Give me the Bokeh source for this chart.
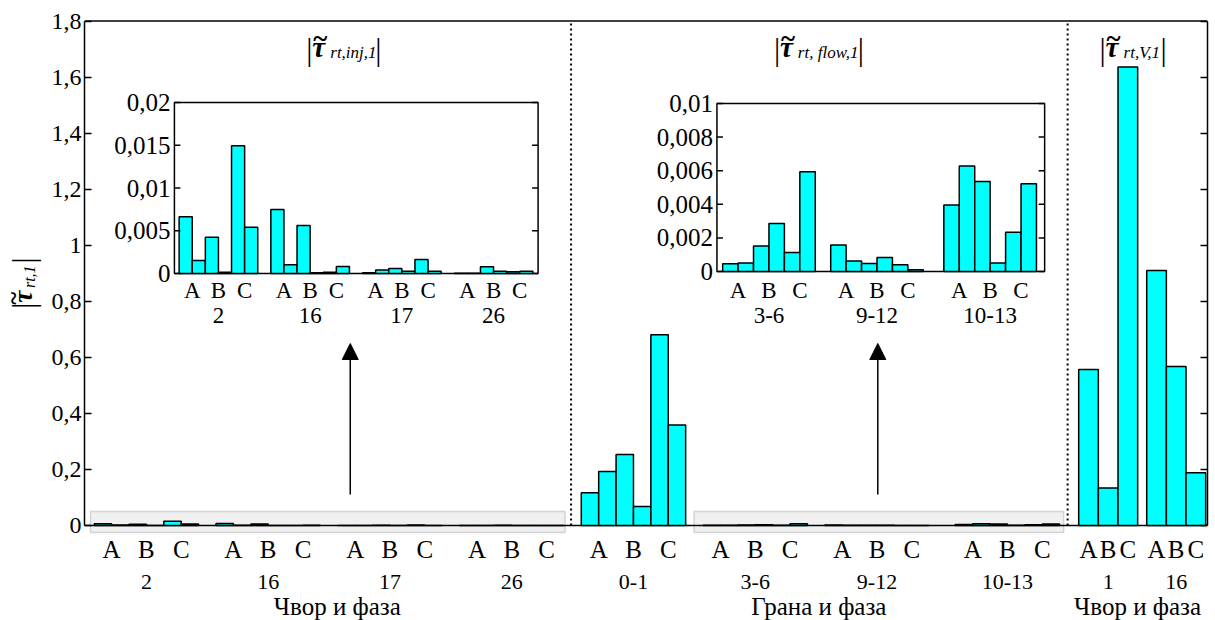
import numpy as np
from bokeh.plotting import figure
from bokeh.layouts import row
from bokeh.models import (Range1d, LinearAxis, FixedTicker, CustomJSTickFormatter,
                          ColumnDataSource, BoxAnnotation, Arrow, NormalHead)
from bokeh.embed import file_html
from bokeh.resources import INLINE
from bokeh.core.properties import value

# ---------------------------------------------------------------- data
phases = ["A", "B", "C"]

# |tau_rt,inj,1| per node: two bars per phase (A, A, B, B, C, C)
inj_nodes = ["2", "16", "17", "26"]
inj_node_2 = [0.00665, 0.00153, 0.00423, 0.00016, 0.01495, 0.0054]
inj_node_16 = [0.0075, 0.00102, 0.0056, 0.00008, 0.00016, 0.00082]
inj_node_17 = [0.00008, 0.0004, 0.00059, 0.00027, 0.00164, 0.00027]
inj_node_26 = [0.00002, 0.00002, 0.00078, 0.00027, 0.0002, 0.00027]

# |tau_rt,flow,1| per branch
flow_branches = ["0-1", "3-6", "9-12", "10-13"]
flow_0_1 = [0.1165, 0.1926, 0.2533, 0.0678, 0.681, 0.359]
flow_3_6 = [0.000455, 0.00051, 0.00152, 0.00285, 0.00113, 0.00594]
flow_9_12 = [0.00158, 0.00063, 0.00048, 0.00083, 0.0004, 0.0001]
flow_10_13 = [0.00396, 0.00628, 0.00535, 0.00051, 0.00234, 0.00523]

# |tau_rt,V,1| per node, one bar per phase
volt_nodes = ["1", "16"]
volt_node_1 = [0.557, 0.134, 1.636]
volt_node_16 = [0.91, 0.567, 0.188]

main_ticks = [0, 0.2, 0.4, 0.6, 0.8, 1.0, 1.2, 1.4, 1.6, 1.8]
inj_zoom_ticks = [0, 0.005, 0.01, 0.015, 0.02]
inj_zoom_tick_labels = ["0", "0,005", "0,01", "0,015", "0,02"]
flow_zoom_ticks = [0, 0.002, 0.004, 0.006, 0.008, 0.01]
flow_zoom_tick_labels = ["0", "0,002", "0,004", "0,006", "0,008", "0,01"]

section_labels = ["Чвор и фаза", "Грана и фаза", "Чвор и фаза"]

# ---------------------------------------------------------------- layout
W, H = 1215, 620
STRIP = 48                                   # width of the y-label strip
FL, FR, FT, FB = 83, 1207, 12, 620          # main frame edges (page pixels)
Y_ZERO_PX, Y_TOP_PX = 525.0, 20.5           # where 0 and 1.8 sit
X0, X1 = -1.06, 63.5                        # slot units across the frame
YMAX = 1.8

inj_starts = [0, 7, 14, 21]
flow_starts = [28, 35, 42, 49.5]
volt_starts = [56.66, 60.57]
volt_w = 1.13

SERIF = "Liberation Serif"
CYAN = "#00FFFF"


def sx(px):
    return X0 + (px - FL) * (X1 - X0) / (FR - FL)


def sy(py):
    return YMAX * (Y_ZERO_PX - py) / (Y_ZERO_PX - Y_TOP_PX)


p = figure(width=W - STRIP, height=H, x_range=Range1d(X0, X1),
           y_range=Range1d(sy(FB), sy(FT)),
           x_axis_type=None, output_backend="svg", toolbar_location=None,
           min_border_left=FL - STRIP, min_border_right=W - FR, min_border_top=FT,
           min_border_bottom=0, title=None, background_fill_color="white",
           border_fill_color="white")
p.xgrid.visible = False
p.ygrid.visible = False
p.outline_line_color = None

ya = p.yaxis[0]
ya.bounds = (0, YMAX)
ya.ticker = FixedTicker(ticks=main_ticks)
ya.formatter = CustomJSTickFormatter(
    code="return (Math.round(tick*10)/10).toString().replace('.', ',');")
ya.major_tick_in = 7
ya.major_tick_out = 0
ya.minor_tick_line_color = None
ya.axis_line_color = "black"
ya.axis_line_width = 1.5
ya.major_tick_line_color = "black"
ya.major_tick_line_width = 1.5
ya.major_label_text_font = SERIF
ya.major_label_text_font_size = "24px"
ya.major_label_text_color = "black"
ya.major_label_standoff = 3

ra = LinearAxis(bounds=(0, YMAX), ticker=FixedTicker(ticks=main_ticks),
                formatter=CustomJSTickFormatter(code="return '';"),
                major_tick_in=7, major_tick_out=0, minor_tick_line_color=None,
                axis_line_color="black", axis_line_width=1.5,
                major_tick_line_color="black", major_tick_line_width=1.5,
                major_label_standoff=0)
p.add_layout(ra, "right")

# top and bottom edges of the plotting box
p.segment(x0=[X0, X0], y0=[0, YMAX], x1=[X1, X1], y1=[0, YMAX],
          line_color="black", line_width=1.5)

# highlighted strips that the zoomed panels refer to
for l, r in [(89, 564), (693, 1063)]:
    p.add_layout(BoxAnnotation(left=sx(l), right=sx(r), bottom=sy(532), top=sy(511),
                               fill_color="#f0f0f0", fill_alpha=1.0, line_color="#808080",
                               line_width=1.5, level="underlay"))

# ---------------------------------------------------------------- main bars
mx, mtop, mw = [], [], []
for start, vals in zip(inj_starts, [inj_node_2, inj_node_16, inj_node_17, inj_node_26]):
    for j, v in enumerate(vals):
        mx.append(start + j); mtop.append(v); mw.append(1.0)
for start, vals in zip(flow_starts, [flow_0_1, flow_3_6, flow_9_12, flow_10_13]):
    for j, v in enumerate(vals):
        mx.append(start + j); mtop.append(v); mw.append(1.0)
for start, vals in zip(volt_starts, [volt_node_1, volt_node_16]):
    for j, v in enumerate(vals):
        mx.append(start + j * volt_w); mtop.append(v); mw.append(volt_w)
p.vbar(x="x", top="top", width="w", bottom=0,
       source=ColumnDataSource(dict(x=mx, top=mtop, w=mw)),
       fill_color=CYAN, line_color="black", line_width=1.5)

# dotted section separators
seps = [sx(570), sx(1067)]
p.segment(x0=seps, y0=[0, 0], x1=seps, y1=[YMAX, YMAX], line_color="black",
          line_width=2, line_dash="2 3")

# ---------------------------------------------------------------- labels under the axis
ph_x, ph_t, gr_x, gr_t = [], [], [], []
for start, name in zip(inj_starts + flow_starts, inj_nodes + flow_branches):
    for k, ph in enumerate(phases):
        ph_x.append(start + 2 * k + 0.5); ph_t.append(ph)
    gr_x.append(start + 2.5); gr_t.append(name)
for start, name in zip(volt_starts, volt_nodes):
    for k, ph in enumerate(phases):
        ph_x.append(start + k * volt_w); ph_t.append(ph)
    gr_x.append(start + volt_w); gr_t.append(name)

txt = dict(text_font=value(SERIF), text_align="center", text_baseline="middle",
           text_color="black")
p.text(x=ph_x, y=[sy(549)] * len(ph_x), text=ph_t, text_font_size="25px", **txt)
p.text(x=gr_x, y=[sy(581)] * len(gr_x), text=gr_t, text_font_size="22px", **txt)
p.text(x=[sx(336), sx(818), sx(1137)], y=[sy(606)] * 3, text=section_labels,
       text_font_size="25px", **txt)


# ---------------------------------------------------------------- titles |tau~_sub|
def tau_label(x_px, base_px, sub, sub_dx):
    common = dict(text_font=value(SERIF), text_align="left", text_baseline="alphabetic",
                  text_color="black")
    p.text(x=[sx(x_px)], y=[sy(base_px + 3)], text=["|"], text_font_size="31px", **common)
    p.text(x=[sx(x_px + 6)], y=[sy(base_px)], text=["τ"], text_font_size="29px",
           text_font_style="bold italic", **common)
    p.text(x=[sx(x_px + 7)], y=[sy(base_px - 9)], text=["~"], text_font_size="27px",
           text_font_style="bold", **common)
    p.text(x=[sx(x_px + 24)], y=[sy(base_px + 6)], text=[sub], text_font_size="17px",
           text_font_style="italic", **common)
    p.text(x=[sx(x_px + 24 + sub_dx)], y=[sy(base_px + 3)], text=["|"],
           text_font_size="31px", **common)


tau_label(305, 46, "rt,inj,1", 45)
tau_label(773, 46, "rt, flow,1", 60)
tau_label(1099, 46, "rt,V,1", 37)

# arrows pointing at the zoomed panels
for xp in [349, 877]:
    p.add_layout(Arrow(x_start=sx(xp), y_start=sy(494), x_end=sx(xp), y_end=sy(343),
                       line_color="black", line_width=1.5,
                       end=NormalHead(size=16, fill_color="black", line_color="black")))


# ---------------------------------------------------------------- zoomed panels
def extra_range(lo, hi, p_lo, p_hi, f_lo, f_hi):
    k = (hi - lo) / (p_hi - p_lo)
    return Range1d(start=lo + (f_lo - p_lo) * k, end=lo + (f_hi - p_lo) * k)


def draw_inset(name, box, u_lim, v_max, starts, groups, series, ticks, tick_labels):
    L, R, T, B = box
    u0, u1 = u_lim
    p.extra_x_ranges[name] = extra_range(u0, u1, L, R, FL, FR)
    p.extra_y_ranges[name] = extra_range(0.0, v_max, B, T, FB, FT)
    kw = dict(x_range_name=name, y_range_name=name)
    upx = (u1 - u0) / (R - L)
    vpx = v_max / (B - T)

    p.quad(left=u0, right=u1, bottom=0, top=v_max, fill_color="white",
           line_color="black", line_width=1.5, **kw)

    bx, bt = [], []
    for start, vals in zip(starts, series):
        for j, v in enumerate(vals):
            bx.append(start + j); bt.append(v)
    p.vbar(x="x", top="top", width=1.0, bottom=0,
           source=ColumnDataSource(dict(x=bx, top=bt)),
           fill_color=CYAN, line_color="black", line_width=1.5, **kw)

    tl = 6 * upx
    p.segment(x0=[u0] * len(ticks), y0=ticks, x1=[u0 + tl] * len(ticks), y1=ticks,
              line_color="black", line_width=1.5, **kw)
    p.segment(x0=[u1] * len(ticks), y0=ticks, x1=[u1 - tl] * len(ticks), y1=ticks,
              line_color="black", line_width=1.5, **kw)
    p.text(x=[u0 - 4 * upx] * len(ticks), y=ticks, text=tick_labels,
           text_font=value(SERIF), text_font_size="25px", text_align="right",
           text_baseline="middle", text_color="black", **kw)

    px_, pt_, gx_, gt_ = [], [], [], []
    for start, g in zip(starts, groups):
        for k, ph in enumerate(phases):
            px_.append(start + 2 * k + 0.5); pt_.append(ph)
        gx_.append(start + 2.5); gt_.append(g)
    p.text(x=px_, y=[-(290 - B) * vpx] * len(px_), text=pt_,
           text_font=value(SERIF), text_font_size="23px", text_align="center",
           text_baseline="middle", text_color="black", **kw)
    p.text(x=gx_, y=[-(315 - B) * vpx] * len(gx_), text=gt_,
           text_font=value(SERIF), text_font_size="23px", text_align="center",
           text_baseline="middle", text_color="black", **kw)


draw_inset("inj", (173, 537, 102, 273), (-0.86, 26.9), 0.02, inj_starts, inj_nodes,
           [inj_node_2, inj_node_16, inj_node_17, inj_node_26],
           inj_zoom_ticks, inj_zoom_tick_labels)
draw_inset("flow", (716, 1044, 103, 271), (-0.87, 20.36), 0.01, [0, 7, 14.33],
           flow_branches[1:], [flow_3_6, flow_9_12, flow_10_13],
           flow_zoom_ticks, flow_zoom_tick_labels)

# ---------------------------------------------------------------- y-axis label strip
ylab = figure(width=STRIP, height=H, x_range=Range1d(0, STRIP), y_range=Range1d(H, 0),
              x_axis_type=None, y_axis_type=None, output_backend="svg",
              toolbar_location=None, min_border=0, title=None,
              background_fill_color="white", border_fill_color="white")
ylab.xgrid.visible = False
ylab.ygrid.visible = False
ylab.outline_line_color = None
for t, xp, yp, size, style in [("|", 23, 302, "31px", "normal"),
                               ("τ", 22, 296, "27px", "bold italic"),
                               ("~", 13, 298, "25px", "bold"),
                               ("rt,1", 29, 281, "16px", "italic"),
                               ("|", 23, 256, "31px", "normal")]:
    ylab.text(x=[xp], y=[yp], text=[t], angle=np.pi / 2, text_font=value(SERIF),
              text_font_size=size, text_font_style=style, text_align="left",
              text_baseline="alphabetic", text_color="black")

layout = row(ylab, p)
open("out.html", "w").write(file_html(layout, INLINE))
